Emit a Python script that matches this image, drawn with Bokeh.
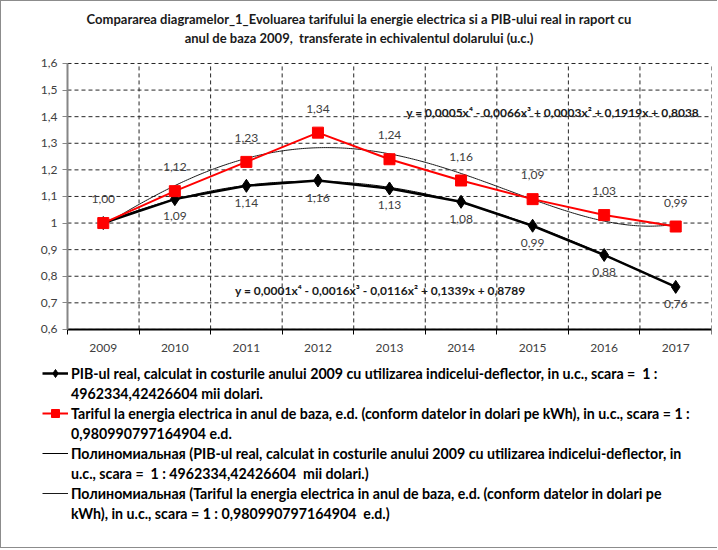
import numpy as np
from bokeh.plotting import figure
from bokeh.layouts import column
from bokeh.models import Range1d, FixedTicker, Legend, LegendItem, Label, Div
from bokeh.core.properties import value
from bokeh.embed import file_html
from bokeh.resources import INLINE

# ---------------- data ----------------
years = [2009, 2010, 2011, 2012, 2013, 2014, 2015, 2016, 2017]
pib = [1.00, 1.09, 1.14, 1.16, 1.13, 1.08, 0.99, 0.88, 0.76]
tarif = [1.00, 1.12, 1.23, 1.34, 1.24, 1.16, 1.09, 1.03, 0.987]
y_ticks = [0.6, 0.7, 0.8, 0.9, 1.0, 1.1, 1.2, 1.3, 1.4, 1.5, 1.6]
y_tick_labels = ["0,6", "0,7", "0,8", "0,9", "1", "1,1", "1,2", "1,3", "1,4", "1,5", "1,6"]
eq_pib = "y = 0,0001x\u2074 - 0,0016x\u00b3 - 0,0116x\u00b2 + 0,1339x + 0,8789"
eq_tarif = "y = 0,0005x\u2074 - 0,0066x\u00b3 + 0,0003x\u00b2 + 0,1919x + 0,8038"
title_line1 = "Compararea diagramelor_1_Evoluarea tarifului la energie electrica si a PIB-ului real in raport cu"
title_line2 = "anul de baza 2009,&nbsp; transferate in echivalentul dolarului (u.c.)"
legend_lines = [
    ("PIB-ul real, calculat in costurile anului 2009 cu utilizarea indicelui-deflector, in u.c., scara =  1 :",
     "4962334,42426604 mii dolari."),
    ("Tariful la energia electrica in anul de baza, e.d. (conform datelor in dolari pe kWh), in u.c., scara = 1 :",
     "0,980990797164904 e.d."),
    ("\u041f\u043e\u043b\u0438\u043d\u043e\u043c\u0438\u0430\u043b\u044c\u043d\u0430\u044f (PIB-ul real, calculat in costurile anului 2009 cu utilizarea indicelui-deflector, in",
     "u.c., scara =  1 : 4962334,42426604  mii dolari.)"),
    ("\u041f\u043e\u043b\u0438\u043d\u043e\u043c\u0438\u0430\u043b\u044c\u043d\u0430\u044f (Tariful la energia electrica in anul de baza, e.d. (conform datelor in dolari pe",
     "kWh), in u.c., scara = 1 : 0,980990797164904  e.d.)"),
]

FONT = "Lato, 'Open Sans', sans-serif"

def fmt(v):
    return f"{v:.2f}".replace(".", ",")

# polynomial trendlines (degree 4, x = 1..n as in Excel)
idx = np.arange(1, len(years) + 1)
t = np.linspace(1, len(years), 300)
fit_pib = np.polyval(np.polyfit(idx, pib, 4), t)
fit_tarif = np.polyval(np.polyfit(idx, tarif, 4), t)
t_years = years[0] - 1 + t

x_lo, x_hi = years[0] - 0.5, years[-1] + 0.5
y_lo, y_hi = y_ticks[0], y_ticks[-1]
boundaries = [y - 0.5 for y in years] + [x_hi]

# styles
PIB_LINE = dict(line_color="black", line_width=2.5)
PIB_MARK = dict(marker="diamond", size=13, fill_color="black", line_color="black")
TAR_LINE = dict(line_color="#ff0000", line_width=2)
TAR_MARK = dict(marker="square", size=11, fill_color="#ff0000", line_color="#ff0000")
FIT_PIB = dict(line_color="black", line_width=1)
FIT_TAR = dict(line_color="#1a1a1a", line_width=1)
GRID = dict(line_color="#262626", line_dash="4 3", line_width=1)

# ---------------- title ----------------
title = Div(text=(f'<div style="width:716px;text-align:center;font-family:Lato, sans-serif;'
                  f'font-weight:bold;font-size:13px;line-height:19px;padding-top:9px;color:#1a1a1a">'
                  f'{title_line1}<br>{title_line2}</div>'),
            width=716, height=50, margin=0)

# ---------------- chart (frame also holds the legend area below the axis) ----------------
p = figure(width=716, height=496, output_backend="svg", toolbar_location=None,
           x_range=Range1d(2007.983, x_hi), y_range=Range1d(-0.22, 1.6376),
           min_border_left=29, min_border_right=6, min_border_top=2, min_border_bottom=0)
p.outline_line_color = None
p.background_fill_color = "white"
p.border_fill_color = "white"
p.grid.visible = False

# dashed gridlines limited to the plot area
p.segment(x0=boundaries, y0=[y_lo] * len(boundaries), x1=boundaries, y1=[y_hi] * len(boundaries), **GRID)
p.segment(x0=[x_lo] * len(y_ticks), y0=y_ticks, x1=[x_hi] * len(y_ticks), y1=y_ticks, **GRID)

p.xaxis.fixed_location = y_lo
p.xaxis.bounds = (x_lo, x_hi)
p.xaxis.ticker = FixedTicker(ticks=years, minor_ticks=boundaries)
p.xaxis.major_tick_out = 0
p.xaxis.major_tick_in = 0
p.xaxis.minor_tick_out = 5
p.xaxis.minor_tick_in = 0
p.xaxis.minor_tick_line_color = "black"
p.xaxis.axis_line_color = "black"
p.xaxis.axis_line_width = 2
p.xaxis.major_label_text_font = FONT
p.xaxis.major_label_text_font_size = "12px"
p.xaxis.major_label_text_color = "#404040"
p.xaxis.major_label_standoff = 10

p.yaxis.fixed_location = x_lo
p.yaxis.bounds = (y_lo, y_hi)
p.yaxis.ticker = FixedTicker(ticks=y_ticks, minor_ticks=[])
p.yaxis.major_label_overrides = dict(zip(y_ticks, y_tick_labels))
p.yaxis.axis_line_color = "#868686"
p.yaxis.axis_line_width = 2
p.yaxis.major_tick_out = 5
p.yaxis.major_tick_in = 0
p.yaxis.major_tick_line_color = "#868686"
p.yaxis.major_label_text_font = FONT
p.yaxis.major_label_text_font_size = "12px"
p.yaxis.major_label_text_color = "#404040"
p.yaxis.major_label_standoff = 5

# trendlines
r_fp = p.line(t_years, fit_pib, **FIT_PIB)
r_ft = p.line(t_years, fit_tarif, **FIT_TAR)

# series
r_pl = p.line(years, pib, **PIB_LINE)
r_pm = p.scatter(years, pib, **PIB_MARK)
r_tl = p.line(years, tarif, **TAR_LINE)
r_tm = p.scatter(years, tarif, **TAR_MARK)
blank = p.line(years, pib, line_alpha=0)

# data labels
p.text(years, tarif, text=[fmt(v) for v in tarif], y_offset=-24, text_align="center",
       text_baseline="middle", text_font=value(FONT), text_font_size="12px", text_color="#404040")
p.text(years[1:], pib[1:], text=[fmt(v) for v in pib[1:]], y_offset=17, text_align="center",
       text_baseline="middle", text_font=value(FONT), text_font_size="12px", text_color="#404040")

# equations
p.add_layout(Label(x=2015.28, y=1.416, text=eq_tarif, text_align="center", text_baseline="middle",
                   text_font=FONT, text_font_size="12px", text_font_style="bold", text_color="#1a1a1a"))
p.add_layout(Label(x=2012.87, y=0.747, text=eq_pib, text_align="center", text_baseline="middle",
                   text_font=FONT, text_font_size="12px", text_font_style="bold", text_color="#1a1a1a"))

# legend (each item label split over two rows, as in the reference)
glyph_sets = [[r_pl, r_pm], [r_tl, r_tm], [r_fp], [r_ft]]
items = []
for (first, second), rs in zip(legend_lines, glyph_sets):
    items.append(LegendItem(label=first, renderers=rs))
    items.append(LegendItem(label=second, renderers=[blank]))

legend = Legend(items=items, location=(12, 24))
legend.label_text_font = FONT
legend.label_text_font_size = "14.2px"
legend.label_text_font_style = "bold"
legend.label_text_color = "black"
legend.label_height = 20
legend.glyph_height = 20
legend.glyph_width = 26
legend.label_standoff = 3
legend.spacing = 0
legend.padding = 0
legend.margin = 0
legend.border_line_color = None
legend.background_fill_alpha = 0
p.add_layout(legend, "center")

layout = column(title, p, spacing=0)
layout.styles = {"border-left": "1px solid #8c8c8c", "border-top": "1px solid #8c8c8c",
                 "border-bottom": "1px solid #8c8c8c"}

open("out.html", "w").write(file_html(layout, INLINE))
